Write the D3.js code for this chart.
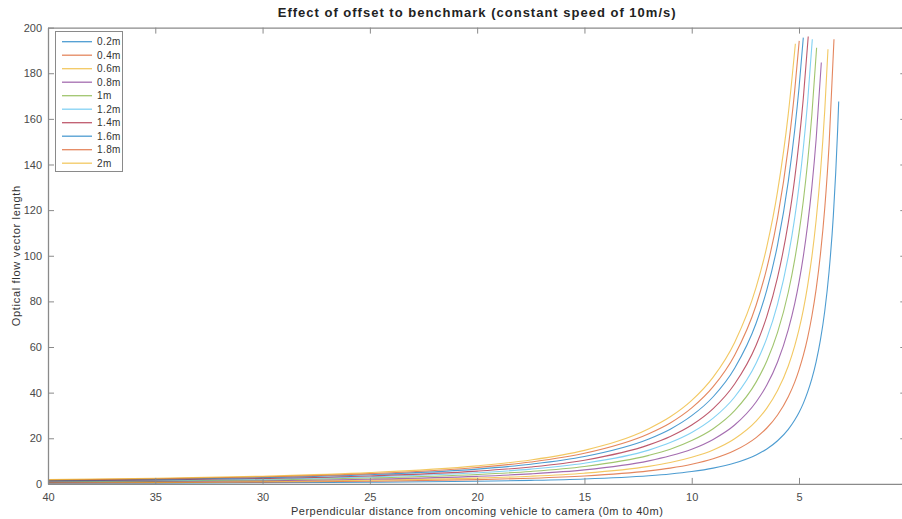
<!DOCTYPE html>
<html>
<head>
<meta charset="utf-8">
<script src="https://cdn.jsdelivr.net/npm/d3@7"></script>
<style>
  html, body { margin: 0; padding: 0; background: #fff; }
  svg { display: block; font-family: "Liberation Sans", Arial, sans-serif; }
</style>
</head>
<body>
<svg id="chart" width="902" height="519"></svg>
<script>
// Perpendicular distance grid (m), shared by all offsets
const distances = [40, 35, 30, 25, 20, 17.5, 15, 12, 11, 10, 9, 8, 7, 6.5, 6, 5.5, 5.2, 5, 4.8, 4.6, 4.4, 4.2, 4, 3.8, 3.6, 3.4, 3.2];

// Offset labels
const offsets = ["0.2m", "0.4m", "0.6m", "0.8m", "1m", "1.2m", "1.4m", "1.6m", "1.8m", "2m"];

// Optical flow vector length per offset, along the distance grid (series stop near the camera)
const flow02 = [0.274, 0.361, 0.497, 0.728, 1.17, 1.56, 2.17, 3.57, 4.34, 5.40, 6.90, 9.15, 12.7, 15.3, 18.9, 23.9, 28.0, 31.3, 35.3, 40.2, 46.1, 53.6, 63.2, 75.8, 93.0, 117.6, 155.1];
const flow04 = [0.437, 0.575, 0.793, 1.16, 1.86, 2.48, 3.47, 5.69, 6.92, 8.61, 11.0, 14.6, 20.3, 24.5, 30.2, 38.2, 44.6, 50.0, 56.3, 64.0, 73.6, 85.5, 100.8, 120.9, 148.4];
const flow06 = [0.591, 0.779, 1.07, 1.57, 2.52, 3.36, 4.70, 7.70, 9.38, 11.7, 14.9, 19.8, 27.5, 33.2, 40.9, 51.7, 60.5, 67.7, 76.3, 86.8, 99.6, 115.8, 136.5, 163.8];
const flow08 = [0.773, 1.02, 1.40, 2.06, 3.30, 4.39, 6.14, 10.1, 12.3, 15.2, 19.5, 25.8, 35.9, 43.3, 53.4, 67.6, 79.0, 88.4, 99.7, 113.4, 130.2, 151.3];
const flow10 = [0.961, 1.27, 1.74, 2.56, 4.10, 5.46, 7.63, 12.5, 15.2, 19.0, 24.2, 32.1, 44.6, 53.9, 66.4, 84.0, 98.3, 110.0, 124.0, 141.0, 161.9];
const flow12 = [1.14, 1.50, 2.07, 3.03, 4.87, 6.48, 9.06, 14.8, 18.1, 22.5, 28.8, 38.1, 52.9, 63.9, 78.8, 99.7, 116.6, 130.5, 147.1, 167.3];
const flow14 = [1.31, 1.73, 2.38, 3.48, 5.59, 7.44, 10.4, 17.1, 20.8, 25.8, 33.0, 43.8, 60.8, 73.4, 90.5, 114.5, 133.9, 149.9, 169.0];
const flow16 = [1.52, 2.00, 2.75, 4.03, 6.47, 8.62, 12.0, 19.7, 24.0, 29.9, 38.2, 50.7, 70.4, 85.0, 104.8, 132.6, 155.1, 173.5];
const flow18 = [1.69, 2.22, 3.06, 4.49, 7.20, 9.59, 13.4, 22.0, 26.7, 33.3, 42.6, 56.4, 78.3, 94.6, 116.6, 147.5, 172.5];
const flow20 = [1.86, 2.45, 3.37, 4.94, 7.92, 10.5, 14.7, 24.2, 29.4, 36.6, 46.8, 62.0, 86.1, 104.0, 128.2, 162.2];

// Last sample of each series (closest distance reached and its flow length)
const endDistance = [3.15, 3.37, 3.65, 3.96, 4.18, 4.38, 4.57, 4.80, 4.99, 5.17];
const endFlow = [167.6, 194.9, 190.5, 184.7, 191.2, 194.9, 196.1, 195.6, 194.2, 192.9];

// Axis ticks
const xTicks = [40, 35, 30, 25, 20, 15, 10, 5, 0];
const yTicks = [0, 20, 40, 60, 80, 100, 120, 140, 160, 180, 200];

const flows = [flow02, flow04, flow06, flow08, flow10, flow12, flow14, flow16, flow18, flow20];
const colors = ["#0072BD", "#D95319", "#EDB120", "#7E2F8E", "#77AC30", "#4DBEEE", "#A2142F", "#0072BD", "#D95319", "#EDB120"];

const svg = d3.select("#chart");
const plotLeft = 48, plotRight = 906.3, plotTop = 27.6, plotBottom = 483.9;

const x = d3.scaleLinear().domain([40, 0]).range([plotLeft, plotRight]);
const y = d3.scaleLinear().domain([0, 200]).range([plotBottom, plotTop]);

const axisColor = "#8a8a8a";
const textColor = "#4a4a4a";

// Series lines
const line = d3.line()
  .x(d => x(d[0]))
  .y(d => y(d[1]))
  .curve(d3.curveMonotoneX);

const series = offsets.map((name, i) => {
  const pts = flows[i].map((v, j) => [distances[j], v]);
  pts.push([endDistance[i], endFlow[i]]);
  return { name, color: colors[i], pts };
});

svg.append("g")
  .selectAll("path")
  .data(series)
  .join("path")
  .attr("fill", "none")
  .attr("stroke", d => d.color)
  .attr("stroke-width", 1.1)
  .attr("stroke-opacity", 0.7)
  .attr("d", d => line(d.pts));

// Axes (box with inward ticks)
function styleAxis(g) {
  g.selectAll(".domain").attr("stroke", axisColor).attr("stroke-width", 1.3);
  g.selectAll(".tick line").attr("stroke", axisColor).attr("stroke-width", 1);
  g.selectAll(".tick text").attr("fill", textColor).style("font-size", "11px")
    .style("font-family", "'Liberation Sans', Arial, sans-serif");
}

svg.append("g")
  .attr("transform", `translate(0,${plotBottom})`)
  .call(d3.axisBottom(x).tickValues(xTicks).tickSizeInner(-6).tickSizeOuter(0).tickPadding(9)
    .tickFormat(d => d === 0 ? "" : d))
  .call(styleAxis);

svg.append("g")
  .attr("transform", `translate(0,${plotTop})`)
  .call(d3.axisTop(x).tickValues(xTicks).tickSizeInner(-6).tickSizeOuter(0).tickFormat(""))
  .call(styleAxis);

svg.append("g")
  .attr("transform", `translate(${plotLeft},0)`)
  .call(d3.axisLeft(y).tickValues(yTicks).tickSizeInner(-6).tickSizeOuter(0).tickPadding(6))
  .call(styleAxis);

svg.append("g")
  .attr("transform", `translate(${plotRight},0)`)
  .call(d3.axisRight(y).tickValues(yTicks).tickSizeInner(-6).tickSizeOuter(0).tickFormat(""))
  .call(styleAxis);

// Titles
svg.append("text")
  .attr("x", (plotLeft + plotRight) / 2)
  .attr("y", 17)
  .attr("text-anchor", "middle")
  .attr("fill", "#222")
  .style("font-size", "13px")
  .style("font-weight", "bold")
  .style("letter-spacing", "1px")
  .text("Effect of offset to benchmark (constant speed of 10m/s)");

svg.append("text")
  .attr("x", (plotLeft + plotRight) / 2)
  .attr("y", 515)
  .attr("text-anchor", "middle")
  .attr("fill", "#333")
  .style("font-size", "11px")
  .style("letter-spacing", "0.5px")
  .text("Perpendicular distance from oncoming vehicle to camera (0m to 40m)");

svg.append("text")
  .attr("transform", `translate(20,${(plotTop + plotBottom) / 2}) rotate(-90)`)
  .attr("text-anchor", "middle")
  .attr("fill", "#333")
  .style("font-size", "11px")
  .style("letter-spacing", "0.7px")
  .text("Optical flow vector length");

// Legend
const legend = svg.append("g");
legend.append("rect")
  .attr("x", 55.5).attr("y", 31.5)
  .attr("width", 67).attr("height", 140)
  .attr("fill", "#fff")
  .attr("stroke", axisColor)
  .attr("stroke-width", 1);

const rows = legend.selectAll("g.row")
  .data(series)
  .join("g")
  .attr("class", "row")
  .attr("transform", (d, i) => `translate(0,${41.7 + i * 13.5})`);

rows.append("line")
  .attr("x1", 62).attr("x2", 92)
  .attr("stroke", d => d.color)
  .attr("stroke-width", 1.3)
  .attr("stroke-opacity", 0.7);

rows.append("text")
  .attr("x", 97)
  .attr("dy", "0.35em")
  .attr("fill", "#333")
  .style("font-size", "10px")
  .style("letter-spacing", "0.4px")
  .text(d => d.name);
</script>
</body>
</html>
